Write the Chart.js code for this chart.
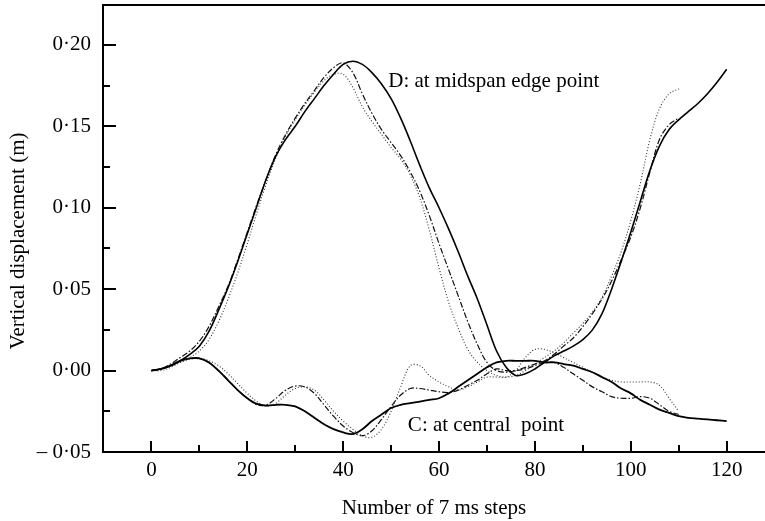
<!DOCTYPE html>
<html>
<head>
<meta charset="utf-8">
<script src="https://cdn.jsdelivr.net/npm/chart.js@4.4.1/dist/chart.umd.min.js"></script>
<style>
  html, body { margin: 0; padding: 0; background: #fff; }
  canvas { display: block; }
</style>
</head>
<body>
<canvas id="c" width="765" height="521"></canvas>
<script>
// Step numbers (7 ms steps)
const stepsTo120 = [0,2,4,6,8,10,12,14,16,18,20,22,24,26,28,30,32,34,36,38,40,42,44,46,48,50,52,54,56,58,60,
  62,64,66,68,70,72,74,76,78,80,82,84,86,88,90,92,94,96,98,100,102,104,106,108,110,112,114,116,118,120];
const stepsTo110 = [0,2,4,6,8,10,12,14,16,18,20,22,24,26,28,30,32,34,36,38,40,42,44,46,48,50,52,54,56,58,60,
  62,64,66,68,70,72,74,76,78,80,82,84,86,88,90,92,94,96,98,100,102,104,106,108,110];

// D: midspan edge point (m)
const dSolid = [0,0.001,0.003,0.006,0.010,0.015,0.024,0.037,0.051,0.067,0.084,0.101,0.118,0.132,0.142,0.150,
  0.159,0.167,0.175,0.182,0.188,0.190,0.188,0.183,0.176,0.167,0.155,0.141,0.126,0.112,0.100,
  0.087,0.073,0.058,0.044,0.028,0.012,0.002,-0.003,-0.002,0.001,0.005,0.009,0.012,0.015,0.019,
  0.025,0.035,0.050,0.067,0.085,0.104,0.123,0.138,0.148,0.154,0.159,0.164,0.170,0.177,0.185];
const dDashDot = [0,0.001,0.004,0.008,0.012,0.018,0.027,0.039,0.052,0.068,0.085,0.102,0.118,0.133,0.145,0.155,
  0.164,0.172,0.180,0.186,0.189,0.183,0.170,0.158,0.148,0.140,0.132,0.122,0.110,0.095,0.078,
  0.062,0.046,0.030,0.016,0.005,0.000,-0.001,0.000,0.002,0.004,0.006,0.010,0.015,0.020,0.027,
  0.035,0.044,0.055,0.068,0.082,0.100,0.122,0.142,0.151,0.155];
const dDotted = [0,0.000,0.002,0.005,0.008,0.012,0.019,0.030,0.044,0.060,0.078,0.097,0.115,0.131,0.144,0.154,
  0.163,0.171,0.178,0.182,0.182,0.174,0.162,0.153,0.145,0.137,0.130,0.120,0.106,0.086,0.063,
  0.042,0.026,0.013,0.005,0.000,-0.003,-0.004,-0.003,0.000,0.004,0.008,0.012,0.017,0.023,0.029,
  0.036,0.045,0.058,0.073,0.092,0.115,0.142,0.161,0.170,0.173];

// C: central point (m)
const cSolid = [0,0.001,0.003,0.006,0.0075,0.0075,0.005,0.000,-0.006,-0.012,-0.017,-0.0205,-0.0215,-0.021,-0.021,-0.022,
  -0.025,-0.029,-0.033,-0.036,-0.038,-0.039,-0.036,-0.031,-0.027,-0.023,-0.021,-0.020,-0.019,-0.018,-0.017,
  -0.014,-0.010,-0.006,-0.002,0.002,0.005,0.006,0.006,0.006,0.006,0.005,0.005,0.004,0.003,0.001,
  -0.001,-0.004,-0.007,-0.011,-0.014,-0.018,-0.021,-0.024,-0.026,-0.028,-0.029,-0.0295,-0.030,-0.0305,-0.031];
const cDashDot = [0,0.001,0.003,0.006,0.0075,0.0075,0.005,0.000,-0.006,-0.012,-0.017,-0.021,-0.021,-0.017,-0.012,-0.0095,
  -0.010,-0.014,-0.021,-0.028,-0.034,-0.038,-0.040,-0.037,-0.030,-0.022,-0.015,-0.011,-0.011,-0.012,-0.013,
  -0.0135,-0.012,-0.009,-0.006,-0.002,0.001,0.000,0.000,0.001,0.003,0.005,0.005,0.002,-0.002,-0.006,
  -0.010,-0.013,-0.016,-0.017,-0.017,-0.016,-0.017,-0.021,-0.025,-0.027];
const cDotted = [0,0.001,0.003,0.005,0.007,0.0075,0.006,0.003,-0.002,-0.008,-0.014,-0.019,-0.022,-0.020,-0.015,-0.011,
  -0.010,-0.012,-0.018,-0.025,-0.031,-0.036,-0.040,-0.041,-0.036,-0.025,-0.010,0.003,0.003,-0.003,-0.007,
  -0.010,-0.012,-0.010,-0.007,-0.004,-0.004,-0.004,0.000,0.008,0.013,0.013,0.011,0.008,0.005,0.002,
  -0.001,-0.004,-0.006,-0.007,-0.007,-0.007,-0.007,-0.009,-0.017,-0.025];

// Axis ticks
const xMajorTicks = [0,20,40,60,80,100,120];
const xMinorTicks = [10,30,50,70,90,110];
const yMajorTicks = [-0.05,0,0.05,0.10,0.15,0.20];
const yMinorTicks = [-0.025,0.025,0.075,0.125,0.175];
const yTickLabels = ['\u2013 0\u00B705','0\u00B700','0\u00B705','0\u00B710','0\u00B715','0\u00B720'];

const FONT = '"Liberation Serif", "Times New Roman", serif';

function pairs(xs, ys) { return xs.map((x, i) => ({ x: x, y: ys[i] })); }

const SOLID = [];
const DASHDOT = [6, 2, 1.5, 2];
const DOTTED = [1, 2];

function series(label, xs, ys, dash, width, color) {
  return {
    label: label,
    data: pairs(xs, ys),
    borderColor: color,
    borderWidth: width,
    borderDash: dash,
    pointRadius: 0,
    tension: 0.35,
    fill: false
  };
}

const datasets = [
  series('D solid', stepsTo120, dSolid, SOLID, 1.6, '#000'),
  series('D dash-dot', stepsTo110, dDashDot, DASHDOT, 1.2, '#111'),
  series('D dotted', stepsTo110, dDotted, DOTTED, 1.1, '#333'),
  series('C solid', stepsTo120, cSolid, SOLID, 1.8, '#000'),
  series('C dash-dot', stepsTo110, cDashDot, DASHDOT, 1.2, '#111'),
  series('C dotted', stepsTo110, cDotted, DOTTED, 1.1, '#333')
];

// Inward tick marks, top frame line, axis titles and curve labels
const decorations = {
  id: 'decorations',
  afterDraw(chart) {
    const ctx = chart.ctx;
    const xs = chart.scales.x, ys = chart.scales.y;
    const area = chart.chartArea;
    ctx.save();
    ctx.strokeStyle = '#000';
    ctx.lineWidth = 2;
    ctx.beginPath();
    ctx.moveTo(area.left - 1, area.top);
    ctx.lineTo(chart.width, area.top);
    ctx.stroke();

    ctx.lineWidth = 2;
    const bottom = area.bottom, left = area.left;
    ctx.beginPath();
    xMajorTicks.forEach(v => { const p = Math.round(xs.getPixelForValue(v)); ctx.moveTo(p, bottom); ctx.lineTo(p, bottom - 11); });
    xMinorTicks.forEach(v => { const p = Math.round(xs.getPixelForValue(v)); ctx.moveTo(p, bottom); ctx.lineTo(p, bottom - 7); });
    yMajorTicks.forEach(v => { const p = Math.round(ys.getPixelForValue(v)); ctx.moveTo(left, p); ctx.lineTo(left + 13, p); });
    yMinorTicks.forEach(v => { const p = Math.round(ys.getPixelForValue(v)); ctx.moveTo(left, p); ctx.lineTo(left + 7, p); });
    ctx.stroke();

    ctx.fillStyle = '#000';
    ctx.font = '21px ' + FONT;
    ctx.textBaseline = 'alphabetic';
    ctx.textAlign = 'left';
    ctx.fillText('D: at midspan edge point', xs.getPixelForValue(49.4), ys.getPixelForValue(0.174));
    ctx.fillText('C: at central  point', xs.getPixelForValue(53.5), ys.getPixelForValue(-0.0369));

    ctx.textAlign = 'center';
    ctx.fillText('Number of 7 ms steps', (area.left + chart.width) / 2, 514);

    ctx.translate(24, 241);
    ctx.rotate(-Math.PI / 2);
    ctx.fillText('Vertical displacement (m)', 0, 0);
    ctx.restore();
  }
};

new Chart(document.getElementById('c'), {
  type: 'line',
  data: { datasets: datasets },
  options: {
    responsive: false,
    animation: false,
    events: [],
    layout: { padding: { top: 5, right: 0, left: 0, bottom: 0 } },
    plugins: { legend: { display: false }, tooltip: { enabled: false }, title: { display: false } },
    scales: {
      x: {
        type: 'linear',
        min: -10.1,
        max: 128,
        grid: { display: false, drawTicks: false, tickLength: 0 },
        border: { display: true, color: '#000', width: 2 },
        afterBuildTicks(scale) { scale.ticks = xMajorTicks.map(v => ({ value: v })); },
        afterFit(scale) { scale.height = 69; scale.paddingLeft = 0; scale.paddingRight = 0; },
        ticks: {
          color: '#000',
          padding: 6,
          maxRotation: 0,
          font: { family: FONT, size: 21 },
          callback: (v) => String(v)
        }
      },
      y: {
        type: 'linear',
        min: -0.05,
        max: 0.2245,
        grid: { display: false, drawTicks: false, tickLength: 0 },
        border: { display: true, color: '#000', width: 2 },
        afterBuildTicks(scale) { scale.ticks = yMajorTicks.map(v => ({ value: v })); },
        afterFit(scale) { scale.width = 103; scale.paddingTop = 0; scale.paddingBottom = 0; },
        ticks: {
          color: '#000',
          padding: 12,
          font: { family: FONT, size: 21 },
          callback: (v, i) => yTickLabels[i]
        }
      }
    }
  },
  plugins: [decorations]
});
</script>
</body>
</html>
